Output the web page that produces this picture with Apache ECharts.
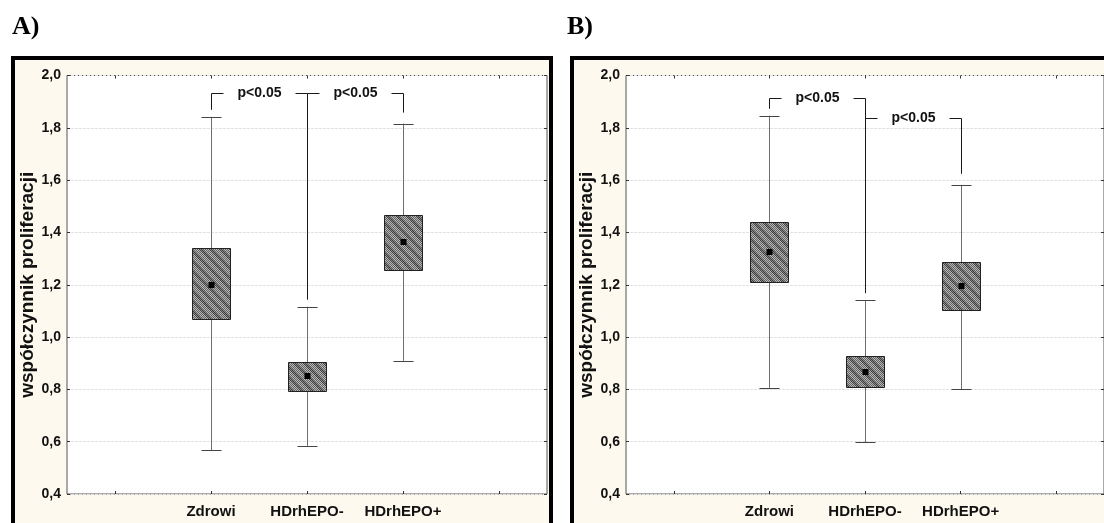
<!DOCTYPE html>
<html><head><meta charset="utf-8">
<script src="https://cdn.jsdelivr.net/npm/echarts@6/dist/echarts.min.js"></script>
<style>html,body{margin:0;padding:0;background:#fff}#c{width:1104px;height:523px}</style>
</head><body><div id="c"></div>
<script>
// ---- data ----
const axisCategories = ['_l', 'Zdrowi', 'HDrhEPO-', 'HDrhEPO+', '_r'];
const groups = ['Zdrowi', 'HDrhEPO-', 'HDrhEPO+'];
const panelTitles = ['A)', 'B)'];
const yAxisTitle = 'współczynnik proliferacji';
const pLabel = 'p<0.05';
const yMin = 0.4, yMax = 2.0, yStep = 0.2;

// panel A
const meanA        = [1.20, 0.851, 1.364];
const boxLowA      = [1.069, 0.794, 1.258];
const boxHighA     = [1.341, 0.906, 1.467];
const whiskerLowA  = [0.567, 0.584, 0.909];
const whiskerHighA = [1.842, 1.116, 1.816];
const bracketsA    = [[0, 1, 1.933], [1, 2, 1.933]];

// panel B
const meanB        = [1.325, 0.868, 1.195];
const boxLowB      = [1.209, 0.808, 1.102];
const boxHighB     = [1.441, 0.928, 1.288];
const whiskerLowB  = [0.806, 0.597, 0.801];
const whiskerHighB = [1.846, 1.141, 1.582];
const bracketsB    = [[0, 1, 1.914], [1, 2, 1.837]];

// ---- pattern (hatched gray fill) ----
function makePattern() {
  const n = 10, c = document.createElement('canvas');
  c.width = n; c.height = n;
  const g = c.getContext('2d');
  for (let y = 0; y < n; y++) for (let x = 0; x < n; x++) {
    const chk = (x + y) % 2 === 0;
    const band = (((x - y) % n) + n) % n < 4;
    g.fillStyle = band ? (chk ? '#3e3e3e' : '#868686') : (chk ? '#626262' : '#b8b8b8');
    g.fillRect(x, y, 1, 1);
  }
  return { image: c, repeat: 'repeat' };
}
const pattern = makePattern();
const FONT = '"Liberation Sans", Arial, sans-serif';

function renderBox(params, api) {
  const x = api.value(0);
  const m = api.coord([x, api.value(1)]);
  const bl = api.coord([x, api.value(2)]);
  const bh = api.coord([x, api.value(3)]);
  const wl = api.coord([x, api.value(4)]);
  const wh = api.coord([x, api.value(5)]);
  const band = api.size([1, 0])[0];
  const bw = Math.round(band * 0.4), cw = Math.round(band * 0.21);
  const cx = Math.round(m[0]) + 0.5;
  const ln = { stroke: '#6e6e6e', lineWidth: 1 };
  return {
    type: 'group',
    children: [
      { type: 'line', shape: { x1: cx, y1: wl[1], x2: cx, y2: wh[1] }, style: ln },
      { type: 'line', shape: { x1: cx - cw / 2, y1: Math.round(wl[1]) + 0.5, x2: cx + cw / 2, y2: Math.round(wl[1]) + 0.5 }, style: { stroke: '#444', lineWidth: 1 } },
      { type: 'line', shape: { x1: cx - cw / 2, y1: Math.round(wh[1]) + 0.5, x2: cx + cw / 2, y2: Math.round(wh[1]) + 0.5 }, style: { stroke: '#444', lineWidth: 1 } },
      { type: 'rect', shape: { x: cx - bw / 2, y: Math.round(bh[1]) + 0.5, width: bw, height: Math.round(bl[1]) - Math.round(bh[1]) },
        style: { fill: pattern, stroke: '#222', lineWidth: 1 } },
      { type: 'rect', shape: { x: cx - 3, y: Math.round(m[1]) - 3, width: 6, height: 6 }, style: { fill: '#000' } }
    ]
  };
}

function renderBracket(params, api) {
  const f = api.value(0), t = api.value(1), lvl = api.value(2);
  const L = api.coord([f, lvl]), R = api.coord([t, lvl]);
  const lb = api.coord([f, api.value(3)])[1] - 7;
  const rb = api.coord([t, api.value(4)])[1] - 11;
  const xl = Math.round(L[0]) + 0.5, xr = Math.round(R[0]) + 0.5, y = Math.round(L[1]) + 0.5;
  const st = { stroke: '#1a1a1a', lineWidth: 1, fill: null };
  return {
    type: 'group',
    children: [
      { type: 'polyline', shape: { points: [[xl, lb], [xl, y], [xl + 12, y]] }, style: st },
      { type: 'polyline', shape: { points: [[xr - 12, y], [xr, y], [xr, rb]] }, style: st },
      { type: 'text', style: { text: pLabel, x: (xl + xr) / 2, y: y, align: 'center', verticalAlign: 'middle',
          textAlign: 'center', textVerticalAlign: 'middle', font: 'bold 14px ' + FONT, fill: '#111' } }
    ]
  };
}

const panels = [
  { left: 67, mean: meanA, lo: boxLowA, hi: boxHighA, wl: whiskerLowA, wh: whiskerHighA, br: bracketsA },
  { left: 626, mean: meanB, lo: boxLowB, hi: boxHighB, wl: whiskerLowB, wh: whiskerHighB, br: bracketsB }
];

const grid = [], xAxis = [], yAxis = [], series = [];
panels.forEach((p, i) => {
  grid.push({ left: p.left, top: 75.5, width: 480, height: 418.5, show: true, backgroundColor: '#fff', borderColor: '#555', borderWidth: 1 });
  const tick = { show: true, inside: true, length: 3, alignWithLabel: true, interval: 0, lineStyle: { color: '#333' } };
  xAxis.push({ type: 'category', gridIndex: i, data: axisCategories, boundaryGap: true, position: 'bottom',
    axisLine: { show: false }, axisTick: tick,
    axisLabel: { interval: 0, margin: 10, fontFamily: FONT, fontWeight: 'bold', fontSize: 15, color: '#111',
      formatter: v => v.startsWith('_') ? '' : v } });
  xAxis.push({ type: 'category', gridIndex: i, data: axisCategories, boundaryGap: true, position: 'top',
    axisLine: { show: false }, axisTick: tick, axisLabel: { show: false } });
  const ytick = { show: true, inside: true, length: 3, lineStyle: { color: '#333' } };
  yAxis.push({ type: 'value', gridIndex: i, min: yMin, max: yMax, interval: yStep, position: 'left',
    name: yAxisTitle, nameLocation: 'middle', nameGap: 27, nameRotate: 90,
    nameTextStyle: { fontFamily: FONT, fontWeight: 'bold', fontSize: 19, color: '#111' },
    axisLine: { show: false }, axisTick: ytick,
    axisLabel: { margin: 6, fontFamily: FONT, fontWeight: 'bold', fontSize: 14, color: '#111',
      formatter: v => v.toFixed(1).replace('.', ',') },
    splitLine: { show: true, lineStyle: { color: '#e2e2e2', type: [3, 1], width: 1 } } });
  yAxis.push({ type: 'value', gridIndex: i, min: yMin, max: yMax, interval: yStep, position: 'right',
    axisLine: { show: false }, axisTick: ytick, axisLabel: { show: false }, splitLine: { show: false } });

  series.push({ type: 'custom', xAxisIndex: 2 * i, yAxisIndex: 2 * i, renderItem: renderBox,
    encode: { x: 0, y: [1, 2, 3, 4, 5] }, silent: true, clip: false,
    data: groups.map((g, k) => [k + 1, p.mean[k], p.lo[k], p.hi[k], p.wl[k], p.wh[k]]) });
  series.push({ type: 'custom', xAxisIndex: 2 * i, yAxisIndex: 2 * i, renderItem: renderBracket,
    encode: { x: 0, y: 2 }, silent: true, clip: false, z: 3,
    data: p.br.map(b => [b[0] + 1, b[1] + 1, b[2], p.wh[b[0]], p.wh[b[1]]]) });
});

const graphic = [
  { type: 'rect', z: -100, shape: { x: 13, y: 58, width: 538, height: 480 }, style: { fill: '#fdf9ee', stroke: '#000', lineWidth: 4 } },
  { type: 'rect', z: -100, shape: { x: 572, y: 58, width: 560, height: 480 }, style: { fill: '#fdf9ee', stroke: '#000', lineWidth: 4 } },
  { type: 'text', left: 12, top: 14, style: { text: panelTitles[0], font: 'bold 26px "Liberation Serif", "Times New Roman", serif', fill: '#000' } },
  { type: 'text', left: 567, top: 14, style: { text: panelTitles[1], font: 'bold 26px "Liberation Serif", "Times New Roman", serif', fill: '#000' } }
];

const chart = echarts.init(document.getElementById('c'), null, { renderer: 'canvas' });
chart.setOption({ animation: false, backgroundColor: 'transparent', grid, xAxis, yAxis, series, graphic });
</script></body></html>
